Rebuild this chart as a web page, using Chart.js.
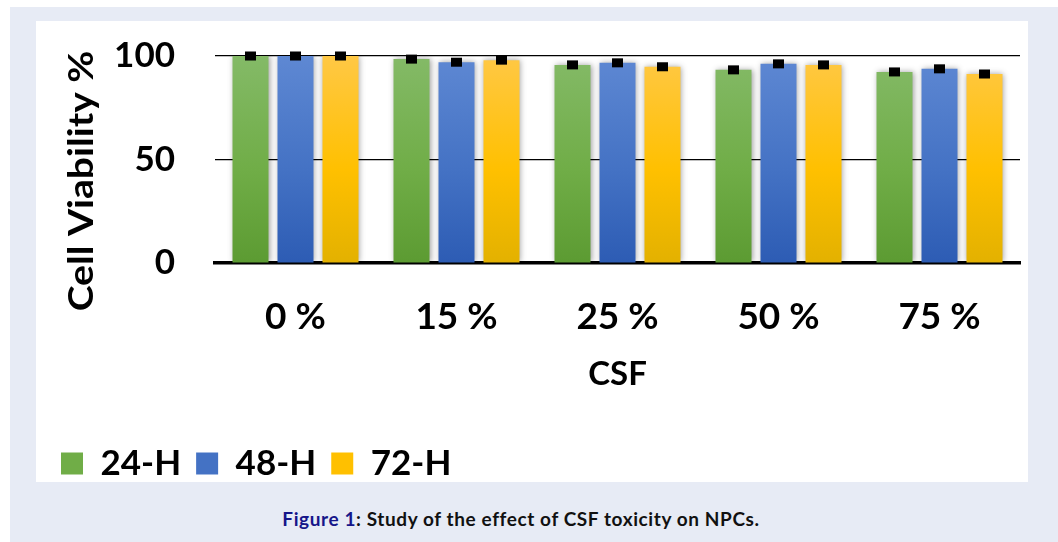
<!DOCTYPE html>
<html lang="en">
<head>
  <meta charset="UTF-8" />
  <title>Cell Viability vs CSF</title>
  <script src="https://cdn.jsdelivr.net/npm/chart.js@4.4.0/dist/chart.umd.min.js"></script>
  <style>
    body {
      margin: 0;
      width: 1058px;
      height: 542px;
      background: #fff;
      position: relative;
      overflow: hidden;
      font-family: Lato, "Open Sans", sans-serif;
    }
    #outer {
      position: absolute;
      left: 10px; top: 7px; right: 0; bottom: 0;
      background: #e7ebf5;
    }
    #panel {
      position: absolute;
      left: 36px; top: 21px;
      width: 992px; height: 461px;
      background: #fff;
    }
    #wrap {
      position: absolute;
      left: 36px; top: 21px;
      width: 1000px; height: 480px;
    }
    #caption {
      position: absolute;
      left: 0; width: 1042px;
      top: 507px;
      text-align: center;
      font-weight: 700;
      font-size: 19px;
      letter-spacing: 0.6px;
      color: #111;
    }
    #caption span { color: #16168a; }
  </style>
</head>
<body>
  <div id="outer"></div>
  <div id="panel"></div>
  <div id="wrap"><canvas id="viability"></canvas></div>
  <div id="caption"><span>Figure 1</span>: Study of the effect of CSF toxicity on NPCs.</div>

  <script>
    const categories = ['0 %', '15 %', '25 %', '50 %', '75 %'];
    const h24 = [100, 98.5, 95.7, 93.3, 92.3];
    const h48 = [100, 97.0, 96.7, 96.2, 93.8];
    const h72 = [100, 98.0, 94.8, 95.7, 91.3];
    const yTicks = [0, 50, 100];

    // top / middle / bottom shades of the Office palette
    const shades = {
      green:  ['#84ba67', '#70ad47', '#5c9b32'],
      blue:   ['#5e88d3', '#4472c4', '#2d5cb4'],
      yellow: ['#ffc845', '#ffc000', '#e3b100']
    };

    function barGradient(key) {
      return (context) => {
        const { ctx, chartArea } = context.chart;
        if (!chartArea) return shades[key][1];
        const g = ctx.createLinearGradient(0, chartArea.top, 0, chartArea.bottom);
        g.addColorStop(0, shades[key][0]);
        g.addColorStop(0.55, shades[key][1]);
        g.addColorStop(1, shades[key][2]);
        return g;
      };
    }

    const barShadow = {
      id: 'barShadow',
      beforeDatasetsDraw(chart) {
        const c = chart.ctx;
        c.save();
        c.shadowColor = 'rgba(0,0,0,0.38)';
        c.shadowBlur = 6;
        c.shadowOffsetX = 1;
        c.shadowOffsetY = 0;
      },
      afterDatasetsDraw(chart) {
        chart.ctx.restore();
      }
    };

    // small black error caps sitting on each bar
    const errorCaps = {
      id: 'errorCaps',
      afterDatasetsDraw(chart) {
        const c = chart.ctx;
        c.save();
        c.fillStyle = '#000';
        chart.data.datasets.forEach((ds, i) => {
          chart.getDatasetMeta(i).data.forEach(bar => {
            c.fillRect(bar.x - 5.5, bar.y - 4.5, 11, 9);
          });
        });
        c.restore();
      }
    };

    const yTitle = {
      id: 'yTitle',
      afterDraw(chart) {
        const c = chart.ctx;
        c.save();
        c.translate(46, 160);
        c.rotate(-Math.PI / 2);
        c.scale(1.15, 1);
        c.font = 'bold 34px Lato';
        c.fillStyle = '#000';
        c.textAlign = 'center';
        c.textBaseline = 'middle';
        c.fillText('Cell Viability %', 0, 0);
        c.restore();
      }
    };

    const ctx = document.getElementById('viability').getContext('2d');

    new Chart(ctx, {
      type: 'bar',
      data: {
        labels: categories,
        datasets: [
          { label: '24-H', data: h24, backgroundColor: barGradient('green') },
          { label: '48-H', data: h48, backgroundColor: barGradient('blue') },
          { label: '72-H', data: h72, backgroundColor: barGradient('yellow') }
        ]
      },
      options: {
        responsive: true,
        maintainAspectRatio: false,
        animation: false,
        categoryPercentage: 0.8385,
        barPercentage: 0.8,
        layout: { padding: { left: 10, right: 16, top: 35, bottom: 10 } },
        scales: {
          x: {
            z: 1,
            afterFit: (scale) => { scale.height = 168; },
            grid: { display: false, drawTicks: false },
            border: { display: true, color: '#000', width: 3.5 },
            ticks: {
              color: '#000',
              padding: 32,
              font: { family: 'Lato', weight: 'bold', size: 37 }
            },
            title: {
              display: true,
              text: 'CSF',
              color: '#000',
              padding: { top: 0, bottom: 37 },
              font: { family: 'Lato', weight: 'bold', size: 33 }
            }
          },
          y: {
            min: 0,
            max: 100,
            afterFit: (scale) => {
              scale.width = 169;
              scale.paddingTop = 0;
              scale.paddingBottom = 0;
            },
            afterBuildTicks: (scale) => { scale.ticks = yTicks.map(v => ({ value: v })); },
            grid: { color: '#000', lineWidth: 1.2, drawTicks: false },
            border: { display: false },
            ticks: {
              color: '#000',
              padding: 40,
              font: { family: 'Lato', weight: 'bold', size: 35 }
            }
          }
        },
        plugins: {
          legend: {
            position: 'bottom',
            align: 'start',
            labels: {
              color: '#000',
              boxWidth: 22,
              boxHeight: 22,
              padding: 15,
              font: { family: 'Lato', weight: 'bold', size: 35 },
              generateLabels: (chart) => chart.data.datasets.map((ds, i) => ({
                text: ds.label,
                fillStyle: [shades.green, shades.blue, shades.yellow][i][1],
                strokeStyle: 'transparent',
                lineWidth: 0,
                fontColor: '#000',
                datasetIndex: i
              }))
            }
          },
          tooltip: { enabled: false }
        }
      },
      plugins: [barShadow, errorCaps, yTitle]
    });
  </script>
</body>
</html>
